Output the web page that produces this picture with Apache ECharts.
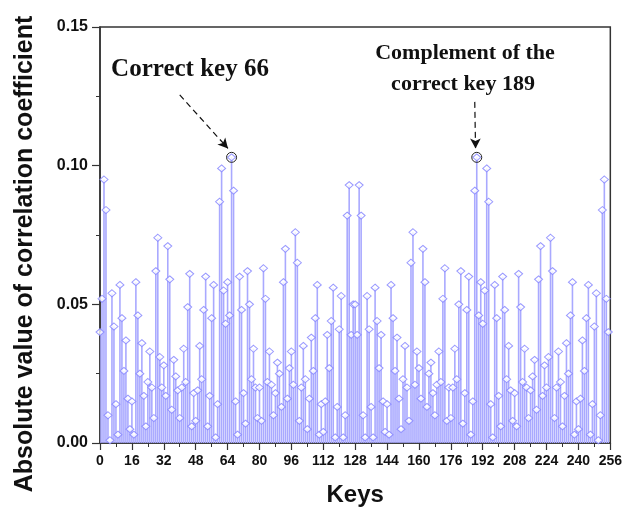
<!DOCTYPE html>
<html>
<head>
<meta charset="utf-8">
<script src="https://cdn.jsdelivr.net/npm/echarts@6/dist/echarts.min.js"></script>
<style>
  html, body { margin: 0; padding: 0; background: #fff; }
  #chart { width: 625px; height: 513px; }
</style>
</head>
<body>
<div id="chart"></div>
<script>
// Keys 0..255
const keyCount = 256;
// Absolute value of correlation coefficient for each key
const corrValues = [
  0.040, 0.052, 0.095, 0.084, 0.010, 0.001, 0.054, 0.042, 0.014, 0.003,
  0.057, 0.045, 0.026, 0.037, 0.016, 0.005, 0.015, 0.003, 0.058, 0.046,
  0.025, 0.036, 0.017, 0.006, 0.022, 0.033, 0.020, 0.009, 0.062, 0.074,
  0.031, 0.020, 0.028, 0.017, 0.071, 0.059, 0.012, 0.030, 0.024, 0.019,
  0.009, 0.020, 0.034, 0.022, 0.049, 0.061, 0.006, 0.018, 0.008, 0.019,
  0.035, 0.023, 0.048, 0.060, 0.006, 0.017, 0.045, 0.057, 0.002, 0.014,
  0.087, 0.099, 0.055, 0.043, 0.058, 0.046, 0.103, 0.091, 0.015, 0.003,
  0.060, 0.048, 0.018, 0.007, 0.062, 0.050, 0.023, 0.034, 0.020, 0.009,
  0.020, 0.008, 0.063, 0.052, 0.022, 0.033, 0.021, 0.010, 0.018, 0.029,
  0.025, 0.013, 0.058, 0.070, 0.016, 0.027, 0.033, 0.021, 0.076, 0.065,
  0.008, 0.020, 0.035, 0.023, 0.005, 0.016, 0.038, 0.026, 0.045, 0.057,
  0.003, 0.014, 0.004, 0.015, 0.039, 0.027, 0.044, 0.056, 0.002, 0.013,
  0.041, 0.053, 0.002, 0.010, 0.082, 0.093, 0.039, 0.050,
  0.050, 0.039, 0.093, 0.082, 0.010, 0.002, 0.053, 0.041, 0.013, 0.002,
  0.056, 0.044, 0.027, 0.039, 0.015, 0.004, 0.014, 0.003, 0.057, 0.045,
  0.026, 0.038, 0.016, 0.005, 0.023, 0.035, 0.020, 0.008, 0.065, 0.076,
  0.021, 0.033, 0.027, 0.016, 0.070, 0.058, 0.013, 0.025, 0.029, 0.018,
  0.010, 0.021, 0.033, 0.022, 0.052, 0.063, 0.008, 0.020, 0.009, 0.020,
  0.034, 0.023, 0.050, 0.062, 0.007, 0.018, 0.048, 0.060, 0.003, 0.015,
  0.091, 0.103, 0.046, 0.058, 0.043, 0.055, 0.099, 0.087, 0.014, 0.002,
  0.057, 0.045, 0.017, 0.006, 0.060, 0.048, 0.023, 0.035, 0.019, 0.008,
  0.018, 0.006, 0.061, 0.049, 0.022, 0.034, 0.020, 0.009, 0.019, 0.024,
  0.030, 0.012, 0.059, 0.071, 0.017, 0.028, 0.020, 0.031, 0.074, 0.062,
  0.009, 0.020, 0.033, 0.022, 0.006, 0.017, 0.036, 0.025, 0.046, 0.058,
  0.003, 0.015, 0.005, 0.016, 0.037, 0.026, 0.045, 0.057, 0.003, 0.014,
  0.042, 0.054, 0.001, 0.010, 0.084, 0.095, 0.052, 0.040
];
// Highlighted keys
const correctKey = 66;
const complementKey = 189;
// Axis ticks
const xTicks = [0, 16, 32, 48, 64, 80, 96, 112, 128, 144, 160, 176, 192, 208, 224, 240, 256];
const yTicks = [0.00, 0.05, 0.10, 0.15];

const points = corrValues.map((v, k) => [k, v]);

const chart = echarts.init(document.getElementById('chart'), null, { renderer: 'canvas' });

const sans = '"Liberation Sans", Arial, sans-serif';
const serif = '"Liberation Serif", "Times New Roman", serif';

chart.setOption({
  animation: false,
  backgroundColor: '#ffffff',
  grid: {
    left: 100, right: 12, top: 27, bottom: 70,
    show: true, borderColor: '#333', borderWidth: 1.5, backgroundColor: 'transparent'
  },
  xAxis: {
    type: 'value',
    min: xTicks[0], max: xTicks[xTicks.length - 1], interval: 16,
    name: 'Keys', nameLocation: 'middle', nameGap: 40,
    nameTextStyle: { fontFamily: sans, fontWeight: 'bold', fontSize: 24, color: '#111' },
    axisLine: { show: true, onZero: false, lineStyle: { color: '#333', width: 1.5 } },
    axisTick: { show: true, inside: false, length: 7, lineStyle: { color: '#333', width: 1.2 } },
    minorTick: { show: true, splitNumber: 2, length: 4, lineStyle: { color: '#333', width: 1 } },
    axisLabel: { fontFamily: sans, fontWeight: 'bold', fontSize: 14, color: '#111', margin: 11 },
    splitLine: { show: false }
  },
  yAxis: {
    type: 'value',
    min: yTicks[0], max: yTicks[yTicks.length - 1], interval: 0.05,
    axisLine: { show: true, onZero: false, lineStyle: { color: '#333', width: 1.5 } },
    axisTick: { show: true, inside: false, length: 8, lineStyle: { color: '#333', width: 1.2 } },
    minorTick: { show: true, splitNumber: 2, length: 4, lineStyle: { color: '#333', width: 1 } },
    axisLabel: { fontFamily: sans, fontWeight: 'bold', fontSize: 16, color: '#111', margin: 12,
      formatter: v => v.toFixed(2) },
    splitLine: { show: false }
  },
  series: [
    {
      type: 'custom',
      name: 'stems',
      data: points,
      clip: true,
      renderItem: function (params, api) {
        const x = api.value(0), y = api.value(1);
        const p0 = api.coord([x, 0]);
        const p1 = api.coord([x, y]);
        return {
          type: 'line',
          shape: { x1: p0[0], y1: p0[1], x2: p1[0], y2: p1[1] },
          style: { stroke: '#a9a9ff', lineWidth: 1.6 }
        };
      },
      z: 2
    },
    {
      type: 'scatter',
      name: 'markers',
      data: points,
      symbol: 'diamond',
      symbolSize: [8, 7],
      itemStyle: { color: '#ffffff', borderColor: '#8080ff', borderWidth: 1 },
      z: 3,
      markPoint: {
        symbol: 'circle',
        symbolSize: 10,
        itemStyle: { color: 'rgba(0,0,0,0)', borderColor: '#222', borderWidth: 1 },
        label: { show: false },
        data: [
          { coord: [correctKey, corrValues[correctKey]] },
          { coord: [complementKey, corrValues[complementKey]] }
        ]
      },
      markLine: {
        silent: true,
        symbol: ['none', 'arrow'],
        symbolSize: [8, 10],
        label: { show: false },
        lineStyle: { color: '#111', type: [6, 4], width: 1.2 },
        data: [
          [ { coord: [40, 0.1255] }, { coord: [64.2, 0.1062] } ],
          [ { coord: [188, 0.1230] }, { coord: [188.4, 0.1062] } ]
        ]
      }
    }
  ],
  graphic: [
    {
      type: 'text', x: 25, y: 254, rotation: Math.PI / 2,
      style: { text: 'Absolute value of correlation coefficient', fontFamily: sans, fontWeight: 'bold',
        fontSize: 25, fill: '#111', align: 'center', verticalAlign: 'middle' }
    },
    {
      type: 'text', x: 190, y: 70,
      style: { text: 'Correct key 66', fontFamily: serif, fontWeight: 'bold', fontSize: 25,
        fill: '#111', align: 'center', verticalAlign: 'middle' }
    },
    {
      type: 'text', x: 465, y: 53,
      style: { text: 'Complement of the', fontFamily: serif, fontWeight: 'bold', fontSize: 22,
        fill: '#111', align: 'center', verticalAlign: 'middle' }
    },
    {
      type: 'text', x: 463, y: 84,
      style: { text: 'correct key 189', fontFamily: serif, fontWeight: 'bold', fontSize: 22,
        fill: '#111', align: 'center', verticalAlign: 'middle' }
    }
  ]
});
</script>
</body>
</html>
